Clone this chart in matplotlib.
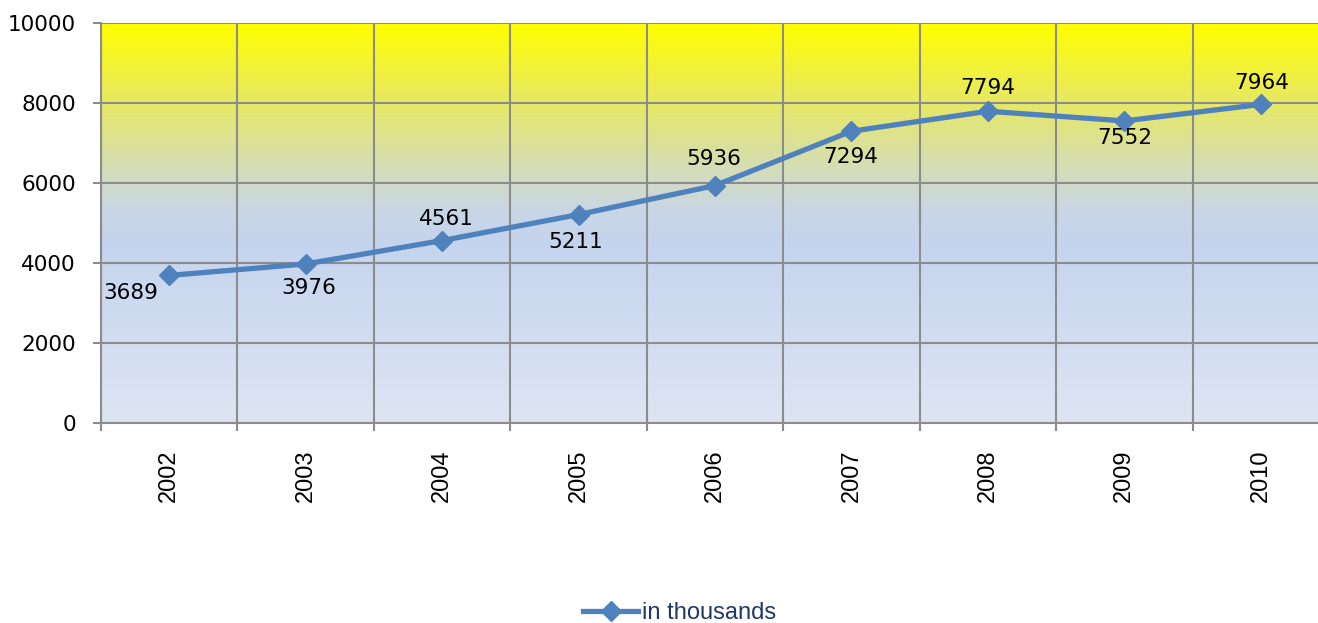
import numpy as np
import matplotlib.pyplot as plt
from matplotlib.colors import LinearSegmentedColormap
from matplotlib.lines import Line2D

years = ["2002", "2003", "2004", "2005", "2006", "2007", "2008", "2009", "2010"]
values = [3689, 3976, 4561, 5211, 5936, 7294, 7794, 7552, 7964]
# label offset in pixels (dx, dy) relative to each point
label_offsets = [(-38, -18), (3, -24), (4, 22), (-3, -27), (-1, 27), (-1, -26), (0, 23), (0, -17), (1, 21)]
yticks = [0, 2000, 4000, 6000, 8000, 10000]

LINE_COLOR = "#4F81BD"
GRID_COLOR = "#8C8C8C"

fig = plt.figure(figsize=(13.18, 6.23), dpi=100)
W, H = 1318, 623
left, right, top, bottom = 101, 1329, 23, 423
ax = fig.add_axes([left / W, 1 - bottom / H, (right - left) / W, (bottom - top) / H])

x = np.arange(len(years))
ax.set_xlim(-0.5, len(years) - 0.5)
ax.set_ylim(0, 10000)

# background gradient
cmap = LinearSegmentedColormap.from_list("bg", [
    (0.0, "#DDE5F3"),
    (0.45, "#C5D4EE"),
    (0.53, "#C8D6E6"),
    (0.62, "#D3DCBF"),
    (0.80, "#E6E866"),
    (1.0, "#FFFF00"),
])
grad = np.linspace(0, 1, 400).reshape(-1, 1)
ax.imshow(grad, cmap=cmap, origin="lower", aspect="auto",
          extent=[-0.5, len(years) - 0.5, 0, 10000], zorder=0)

# grid
ax.set_yticks(yticks)
ax.set_yticklabels([str(v) for v in yticks], fontsize=15.5)
ax.set_xticks(x)
ax.set_xticklabels(years, rotation=90, fontsize=17, family="Liberation Sans")
ax.set_xticks(np.arange(-0.5, len(years)), minor=True)
ax.tick_params(axis="x", which="major", length=0, pad=19)
ax.tick_params(axis="x", which="minor", length=6, width=1.5, color=GRID_COLOR, direction="out")
ax.tick_params(axis="y", length=6, width=1.5, color=GRID_COLOR, pad=12)
ax.grid(True, axis="y", which="major", color=GRID_COLOR, linewidth=1.5, zorder=1)
ax.grid(True, axis="x", which="minor", color=GRID_COLOR, linewidth=1.5, zorder=1)
ax.grid(False, axis="x", which="major")
for s in ["top", "right"]:
    ax.spines[s].set_visible(False)
for s in ["left", "bottom"]:
    ax.spines[s].set_color(GRID_COLOR)
    ax.spines[s].set_linewidth(1.5)
ax.set_axisbelow(False)

ax.plot(x, values, color=LINE_COLOR, linewidth=3.8, marker="D", markersize=10,
        clip_on=False, zorder=3)

for xi, v, (dx, dy) in zip(x, values, label_offsets):
    ax.annotate(str(v), (xi, v), xytext=(dx * 0.72, dy * 0.72), textcoords="offset points",
                ha="center", va="center", fontsize=15.5, color="black", zorder=4)

handle = Line2D([], [], color=LINE_COLOR, linewidth=3.8, marker="D", markersize=10)
fig.legend([handle], ["in thousands"], loc="center", bbox_to_anchor=(680 / W, 1 - 613 / H),
           frameon=False, prop={"family": "Liberation Sans", "size": 17},
           labelcolor="#1F3864", handlelength=2.3, handletextpad=0.2)

fig.savefig("out.png", dpi=100)
